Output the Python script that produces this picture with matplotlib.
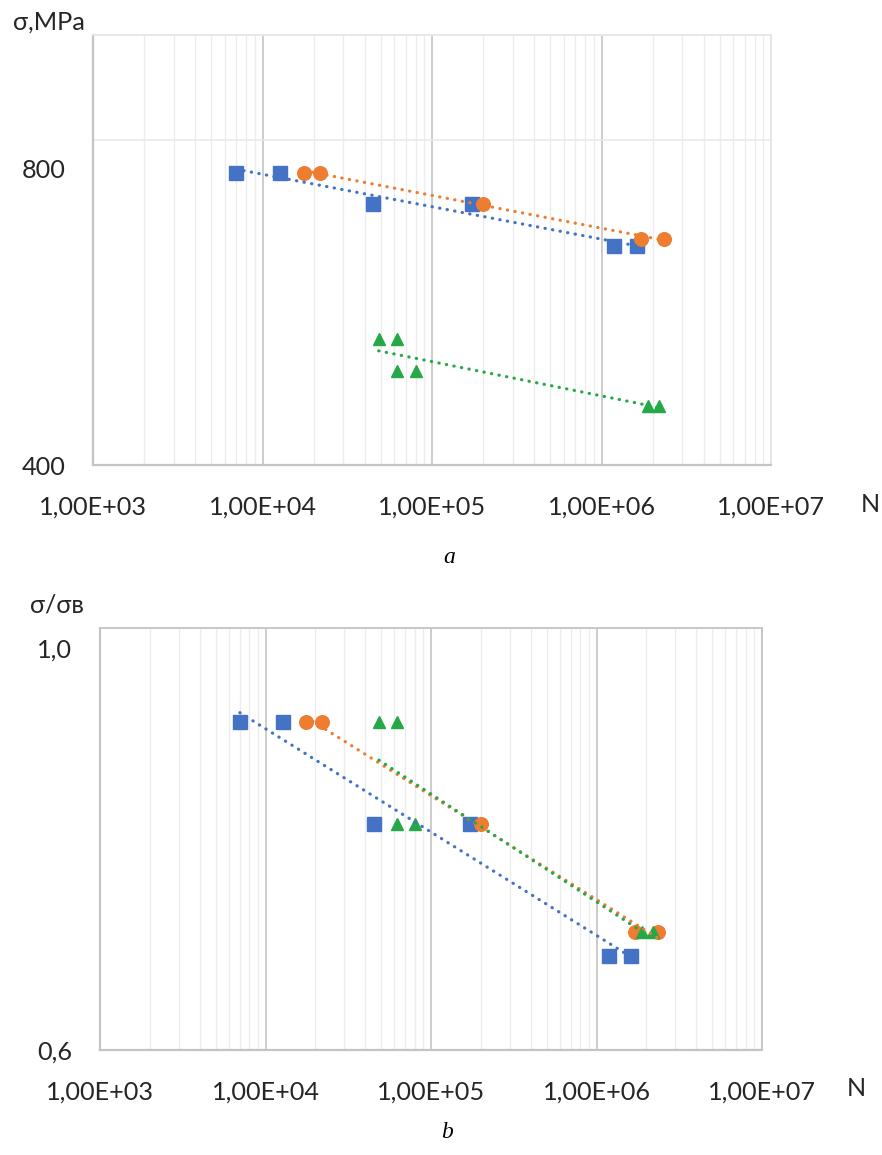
import matplotlib.pyplot as plt
import numpy as np
from matplotlib.ticker import LogLocator, NullFormatter, FixedLocator

plt.rcParams['font.family'] = ['Lato', 'Open Sans', 'DejaVu Sans']

# number of cycles N for each series
n_blue = [7.0e3, 1.27e4, 4.5e4, 1.73e5, 1.19e6, 1.62e6]
n_orange = [1.76e4, 2.18e4, 2.0e5, 1.72e6, 2.34e6]
n_green = [4.85e4, 6.2e4, 6.2e4, 8.0e4, 1.88e6, 2.18e6]

# panel a: stress, MPa
s_blue = [746, 746, 698, 698, 638, 638]
s_orange = [746, 746, 698, 648, 648]
s_green = [523, 523, 489, 489, 454, 454]

# panel b: relative stress sigma/sigma_B
r_blue = [0.892, 0.892, 0.789, 0.789, 0.672, 0.672]
r_orange = [0.892, 0.892, 0.789, 0.692, 0.692]
r_green = [0.892, 0.892, 0.789, 0.789, 0.692, 0.692]

x_ticks = [1e3, 1e4, 1e5, 1e6, 1e7]
x_labels = ['1,00E+03', '1,00E+04', '1,00E+05', '1,00E+06', '1,00E+07']

BLUE = '#4472C4'
ORANGE = '#ED7D31'
GREEN = '#25A848'
TXT = '#262626'
FS = 18.2


def power_trend(n, s):
    # excel style power trendline -> straight line in log-log
    coef = np.polyfit(np.log10(n), np.log10(s), 1)
    x = np.array([min(n), max(n)])
    return x, 10 ** np.polyval(coef, np.log10(x))


def draw_panel(ax, series, ylim, ygrid, ylabels, frame_top):
    ax.set_xscale('log')
    ax.set_yscale('log')
    ax.set_xlim(1e3, 1e7)
    ax.set_ylim(*ylim)

    ax.xaxis.set_major_locator(FixedLocator(x_ticks))
    ax.xaxis.set_minor_locator(LogLocator(base=10, subs=np.arange(2, 10)))
    ax.xaxis.set_minor_formatter(NullFormatter())
    ax.set_xticklabels(x_labels)
    ax.tick_params(axis='x', which='both', length=0, pad=22, labelsize=FS,
                   labelcolor=TXT)
    ax.grid(True, axis='x', which='major', color='#cccccc', lw=1.4)
    ax.grid(True, axis='x', which='minor', color='#ececec', lw=1.0)

    ax.yaxis.set_major_locator(FixedLocator(ygrid))
    ax.yaxis.set_minor_locator(FixedLocator([]))
    ax.tick_params(axis='y', which='both', length=0, labelleft=False)
    ax.grid(True, axis='y', which='major', color='#e8e8e8', lw=1.1)
    ax.set_axisbelow(True)

    for side in ['left', 'bottom']:
        ax.spines[side].set_color('#c4c4c4')
        ax.spines[side].set_linewidth(1.6)
    for side in ['top', 'right']:
        ax.spines[side].set_color(frame_top)
        ax.spines[side].set_linewidth(1.3)

    for val, txt, dy in ylabels:
        ax.annotate(txt, xy=(0, val), xycoords=('axes fraction', 'data'),
                    xytext=(-20, dy), textcoords='offset points',
                    ha='right', va='center', fontsize=FS, color=TXT)

    for n, s, col, mk, ms in series:
        ax.plot(n, s, ls='none', marker=mk, ms=ms, color=col, zorder=3)
    for n, s, col, mk, ms in series:
        xt, yt = power_trend(n, s)
        ax.plot(xt, yt, color=col, lw=2.3, ls=(0, (0.1, 2.3)),
                dash_capstyle='round', zorder=4)


fig = plt.figure(figsize=(8.82, 11.55), dpi=100)

ax_a = fig.add_axes([93 / 882, 1 - 465 / 1155, 678 / 882, 430 / 1155])
draw_panel(ax_a,
           [(n_blue, s_blue, BLUE, 's', 9.5),
            (n_orange, s_orange, ORANGE, 'o', 9.8),
            (n_green, s_green, GREEN, '^', 9.2)],
           (400, 1000), [400, 800],
           [(400, '400', -1.5), (800, '800', -22)], '#e6e6e6')

ax_b = fig.add_axes([100 / 882, 1 - 1050 / 1155, 662 / 882, 422 / 1155])
draw_panel(ax_b,
           [(n_blue, r_blue, BLUE, 's', 9.5),
            (n_orange, r_orange, ORANGE, 'o', 9.8),
            (n_green, r_green, GREEN, '^', 9.2)],
           (0.6, 1.0), [0.6, 1.0],
           [(0.6, '0,6', -1.5), (1.0, '1,0', -16)], '#c4c4c4')

# axis titles and captions
fig.text(13 / 882, 1 - 22 / 1155, 'σ,MPa', fontsize=FS, color=TXT,
         ha='left', va='center')
fig.text(30 / 882, 1 - 605 / 1155, 'σ/σв', fontsize=FS, color=TXT,
         ha='left', va='center')
fig.text(870 / 882, 1 - 505 / 1155, 'N', fontsize=FS, color=TXT,
         ha='center', va='center')
fig.text(856 / 882, 1 - 1088 / 1155, 'N', fontsize=FS, color=TXT,
         ha='center', va='center')
fig.text(449 / 882, 1 - 558 / 1155, 'a', fontsize=17, style='italic',
         family='Liberation Serif', ha='center', va='center')
fig.text(447 / 882, 1 - 1133 / 1155, 'b', fontsize=17, style='italic',
         family='Liberation Serif', ha='center', va='center')

fig.savefig('out.png', dpi=100, facecolor='white')
